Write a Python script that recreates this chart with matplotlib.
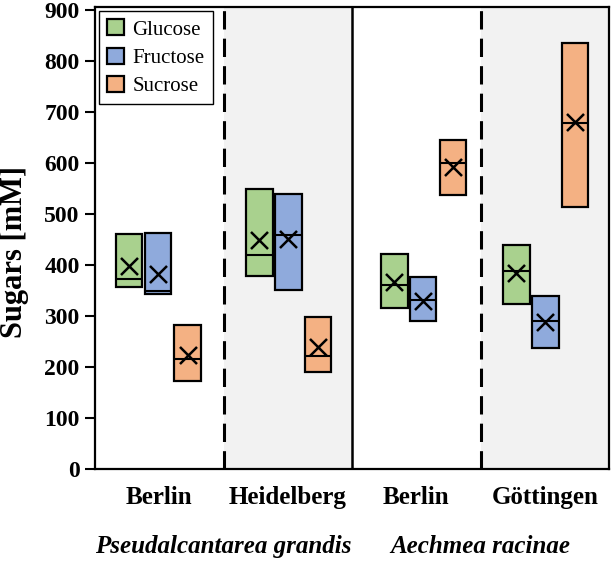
import matplotlib
matplotlib.use("Agg")
import matplotlib.pyplot as plt
from matplotlib.patches import Patch
from matplotlib import transforms
import numpy as np

plt.rcParams['font.family'] = ['Liberation Serif', 'DejaVu Serif']

groups = ['Berlin', 'Heidelberg', 'Berlin', 'Göttingen']
species = ['Pseudalcantarea grandis', 'Aechmea racinae']
sugars = ['Glucose', 'Fructose', 'Sucrose']

glucose_q1 = [357, 378, 315, 324]
glucose_q3 = [460, 550, 422, 440]
glucose_median = [372, 419, 361, 389]
glucose_mean = [398, 449, 366, 384]

fructose_q1 = [343, 352, 290, 238]
fructose_q3 = [462, 540, 377, 340]
fructose_median = [350, 458, 331, 290]
fructose_mean = [383, 451, 330, 288]

sucrose_q1 = [172, 191, 537, 514]
sucrose_q3 = [283, 299, 646, 836]
sucrose_median = [215, 222, 601, 678]
sucrose_mean = [223, 239, 592, 680]

colors = ['#a9d18e', '#8faadc', '#f4b183']

fig = plt.figure(figsize=(6.13, 5.62), dpi=100)
ax = fig.add_axes([95/613, 1-469/562, 514/613, 462/562])

x = np.arange(len(groups))
group_shift = np.array([-0.015, 0.0, 0.05, 0.0])
offsets = [-0.22, 0.005, 0.235]
width = 0.205

series = [
    (glucose_q1, glucose_q3, glucose_median, glucose_mean),
    (fructose_q1, fructose_q3, fructose_median, fructose_mean),
    (sucrose_q1, sucrose_q3, sucrose_median, sucrose_mean),
]

ax.axvspan(0.5, 1.5, color='#f2f2f2', zorder=0, lw=0)
ax.axvspan(2.5, 3.5, color='#f2f2f2', zorder=0, lw=0)
ax.axvline(0.5, color='black', lw=2.2, ls=(0, (6, 3)), zorder=1)
ax.axvline(2.5, color='black', lw=2.2, ls=(0, (6, 3)), zorder=1)
ax.axvline(1.5, color='black', lw=1.8, zorder=1)

for (q1, q3, med, mean), off, c in zip(series, offsets, colors):
    q1 = np.array(q1); q3 = np.array(q3)
    pos = x + group_shift + off
    ax.bar(pos, q3 - q1, bottom=q1, width=width, color=c,
           edgecolor='black', linewidth=1.6, zorder=3)
    ax.hlines(med, pos - width/2, pos + width/2, color='black', lw=1.5, zorder=4)
    ax.scatter(pos, mean, marker='x', s=150, color='black', linewidths=1.8, zorder=5)

ax.set_xlim(-0.5, 3.5)
ax.set_ylim(0, 906)
ax.set_yticks(np.arange(0, 901, 100))
ax.tick_params(axis='y', direction='out', length=7, width=1.5, labelsize=17, pad=4)
for lab in ax.get_yticklabels():
    lab.set_fontweight('bold')
ax.set_xticks(x)
ax.set_xticklabels(groups, fontsize=18, fontweight='bold')
ax.tick_params(axis='x', length=0, pad=12)
for s in ax.spines.values():
    s.set_linewidth(1.6)
    s.set_color('black')

trans = transforms.blended_transform_factory(ax.transData, ax.transAxes)
for xpos, sp in zip([0.5, 2.5], species):
    ax.text(xpos, (469-553)/462, sp, transform=trans, ha='center', va='baseline',
            fontsize=18, fontweight='bold', fontstyle='italic')

fig.text(15/613, 1-252/562, 'Sugars [mM]', rotation=90, ha='center', va='center',
         fontsize=22, fontweight='bold')

handles = [Patch(facecolor=c, edgecolor='black', linewidth=1.6) for c in colors]
leg = ax.legend(handles, sugars, loc='upper left', bbox_to_anchor=(0.008, 0.991),
                borderaxespad=0, fontsize=15, handlelength=0.8, handleheight=0.8,
                handletextpad=0.4, labelspacing=0.38, fancybox=False,
                edgecolor='black', framealpha=1, borderpad=0.4)
leg.get_frame().set_linewidth(1.0)
leg.set_zorder(6)

fig.savefig('out.png', dpi=100)
